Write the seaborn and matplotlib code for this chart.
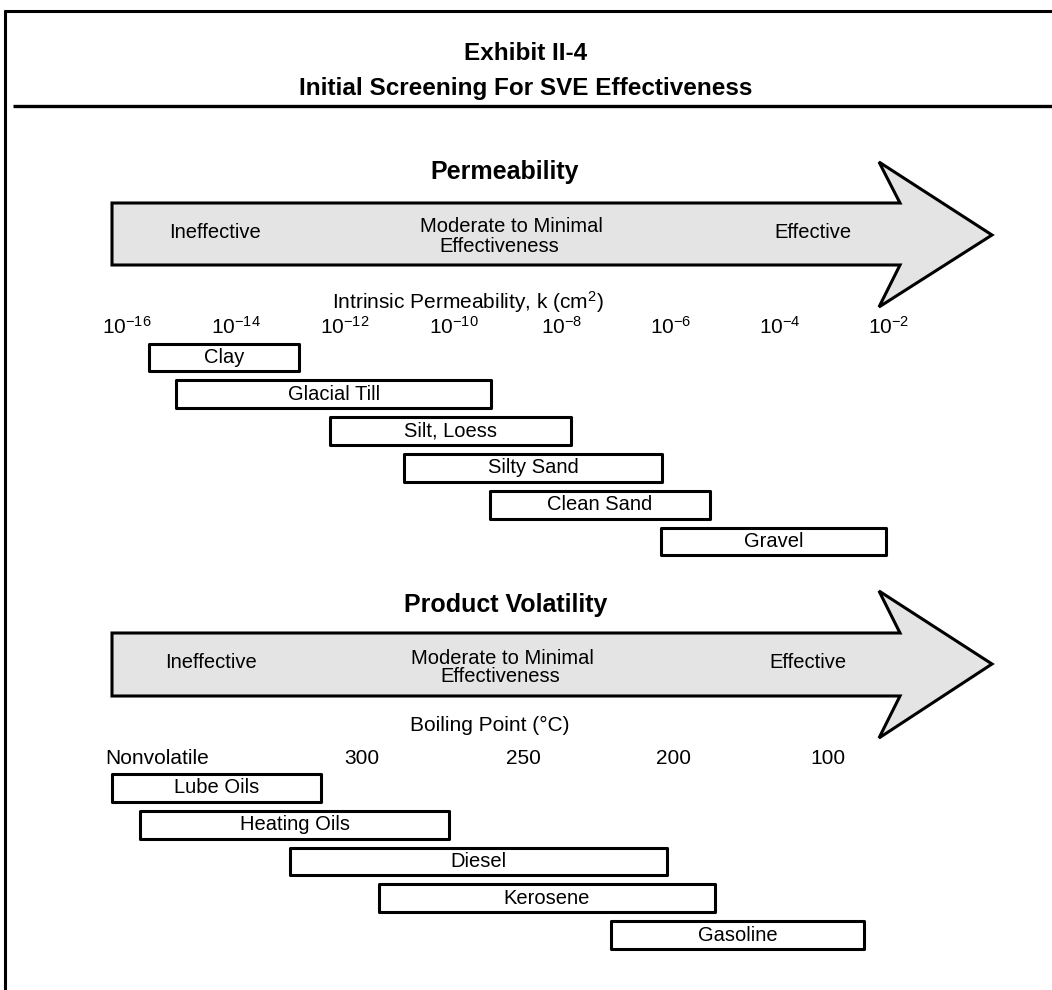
import numpy as np
import pandas as pd
import matplotlib
matplotlib.use("Agg")
import matplotlib.pyplot as plt
from matplotlib.patches import Polygon
import seaborn as sns

# --- permeability panel: log10 of intrinsic permeability k (cm2) ---
soil_types = ["Clay", "Glacial Till", "Silt, Loess", "Silty Sand", "Clean Sand", "Gravel"]
soil_low = [-15.6, -15.1, -12.27, -10.9, -9.33, -6.18]
soil_high = [-12.84, -9.3, -7.84, -6.17, -5.28, -2.05]
perm_ticks = [-16, -14, -12, -10, -8, -6, -4, -2]
perm_tick_labels = [f"$10^{{{t}}}$" for t in perm_ticks]

# --- volatility panel: position along the boiling point scale ---
products = ["Lube Oils", "Heating Oils", "Diesel", "Kerosene", "Gasoline"]
prod_low = [-0.28, 0.24, 2.99, 4.63, 8.90]
prod_high = [3.57, 5.92, 9.93, 10.81, 13.55]
bp_tick_pos = [0.55, 4.32, 7.28, 10.04, 12.89]
bp_tick_labels = ["Nonvolatile", "300", "250", "200", "100"]

sns.set_theme(style="white")
plt.rcParams["font.family"] = ["Liberation Sans", "DejaVu Sans"]
plt.rcParams["text.color"] = "black"
plt.rcParams["xtick.color"] = "black"
plt.rcParams["mathtext.fontset"] = "custom"
plt.rcParams["mathtext.rm"] = "Liberation Sans"
plt.rcParams["mathtext.it"] = "Liberation Sans:italic"
plt.rcParams["mathtext.bf"] = "Liberation Sans:bold"

W, H = 1052, 990
PX_PER_UNIT = 54.4
fig = plt.figure(figsize=(W / 100, H / 100), dpi=100)

# background layer in pixel coordinates for the frame, titles and arrows
ax0 = fig.add_axes([0, 0, 1, 1])
ax0.set_xlim(0, W)
ax0.set_ylim(H, 0)
ax0.axis("off")

ax0.plot([4, W], [11, 11], color="black", lw=2.2, solid_capstyle="butt")
ax0.plot([5, 5], [10, H], color="black", lw=2.2, solid_capstyle="butt")
ax0.plot([13, W], [106, 106], color="black", lw=2.4, solid_capstyle="butt")

title_font = dict(weight="bold", size=17.5)
ax0.text(526, 54, "Exhibit II-4", ha="center", va="center", **title_font)
ax0.text(526, 88, "Initial Screening For SVE Effectiveness", ha="center", va="center", **title_font)


def arrow(y_top, y_bot, head_top, head_bot, tip_y):
    pts = [(112, y_top), (900, y_top), (879, head_top), (992, tip_y),
           (879, head_bot), (900, y_bot), (112, y_bot)]
    ax0.add_patch(Polygon(pts, closed=True, facecolor="#e4e4e4", edgecolor="black",
                          lw=2.2, joinstyle="miter"))


arrow(203, 265, 162, 307, 235)
arrow(633, 696, 591, 738, 664)

fs = 14.5
ax0.text(505, 172, "Permeability", ha="center", va="center", size=18, weight="bold")
ax0.text(215, 232, "Ineffective", ha="center", va="center", size=fs)
ax0.text(511, 227, "Moderate to Minimal", ha="center", va="center", size=fs)
ax0.text(499, 246, "Effectiveness", ha="center", va="center", size=fs)
ax0.text(813, 232, "Effective", ha="center", va="center", size=fs)
ax0.text(468, 302, "Intrinsic Permeability, k (cm$^2$)", ha="center", va="center", size=15)

ax0.text(506, 605, "Product Volatility", ha="center", va="center", size=18, weight="bold")
ax0.text(211, 662, "Ineffective", ha="center", va="center", size=fs)
ax0.text(502, 658, "Moderate to Minimal", ha="center", va="center", size=fs)
ax0.text(500, 677, "Effectiveness", ha="center", va="center", size=fs)
ax0.text(808, 662, "Effective", ha="center", va="center", size=fs)
ax0.text(490, 725, "Boiling Point (°C)", ha="center", va="center", size=15)


def px_axes(x0, y0, x1, y1):
    return fig.add_axes([x0 / W, 1 - y1 / H, (x1 - x0) / W, (y1 - y0) / H])


def bar_panel(ax, names, low, high, ticks, tick_labels, origin, pad):
    df = pd.DataFrame({"name": names, "span": np.subtract(high, low)})
    sns.barplot(data=df, x="span", y="name", orient="h", left=np.array(low),
                width=0.75, color="white", edgecolor="black", linewidth=2.2,
                errorbar=None, ax=ax)
    for bar in ax.containers[0]:
        bar.set_joinstyle("round")
    ax.bar_label(ax.containers[0], labels=names, label_type="center",
                 fontsize=14.5, color="black")
    ax.set_ylim(len(names) - 0.5, -0.5)
    ax.set_xlim(origin - 27 / PX_PER_UNIT, origin + 873 / PX_PER_UNIT)
    ax.set_yticks([])
    ax.set_xlabel("")
    ax.set_ylabel("")
    ax.xaxis.tick_top()
    ax.set_xticks(ticks, tick_labels)
    ax.tick_params(axis="x", length=0, pad=pad, labelsize=15, colors="black")
    for s in ax.spines.values():
        s.set_visible(False)
    ax.patch.set_alpha(0)


ax1 = px_axes(100, 339, 1000, 560)
bar_panel(ax1, soil_types, soil_low, soil_high, perm_ticks, perm_tick_labels, -16, 1)

ax2 = px_axes(100, 769.6, 1000, 953.4)
bar_panel(ax2, products, prod_low, prod_high, bp_tick_pos, bp_tick_labels, 0, 1.5)

fig.savefig("out.png", dpi=100)
